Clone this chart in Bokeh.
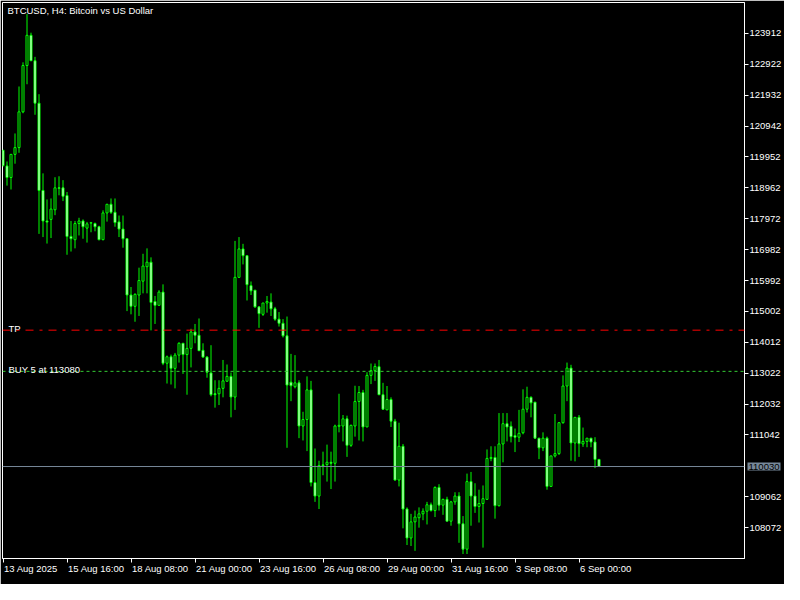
from bokeh.plotting import figure
from bokeh.models import Span, Label, FixedTicker, Range1d, BasicTickFormatter, ColumnDataSource
from bokeh.embed import file_html
from bokeh.resources import INLINE

# ---- data (BTCUSD H4) ----
opens = [120168, 119664, 119293, 120035, 120252, 121397, 122882, 123850, 123036, 121675,
         118878, 117900, 117950, 118259, 118962, 118962, 118714, 117405, 117300, 117817,
         117900, 117671, 117830, 117817, 117715, 117300, 118157, 118436, 118179, 117870,
         117641, 117331, 115527, 115165, 115527, 115970, 116434, 116579, 115320, 115196,
         115620, 113340, 113547, 113176, 113600, 113980, 113618, 113816, 114342, 114237,
         113754, 113538, 113030, 112362, 112362, 112535, 112764, 112919, 112257, 116093,
         117003, 116787, 115827, 115682, 115147, 114908, 115271, 115301, 115085, 114754,
         114621, 114219, 112733, 112588, 112712, 111329, 111536, 112486, 109516, 109083,
         110082, 110091, 110166, 110134, 111319, 111329, 111558, 110710, 111329, 112115,
         112402, 111298, 112950, 113105, 113229, 112331, 111845, 112177, 111483, 109596,
         110679, 108668, 107740, 108256, 108389, 108513, 108597, 108804, 108618, 109361,
         108792, 108977, 108278, 108897, 109083, 108195, 107381, 109547, 109083, 108751,
         108844, 108977, 110289, 110320, 108773, 110753, 111403, 111319, 111019, 110970,
         111112, 111867, 112248, 112093, 110939, 110630, 110939, 109392, 110370, 110444,
         111434, 112610, 113185, 110784, 111607, 110753, 110834, 110939, 110815, 110258]
highs = [120168, 119806, 120035, 120704, 122210, 122984, 124531, 123934, 123160, 121963,
         119426, 118590, 118621, 119302, 119333, 119209, 118829, 117900, 117900, 118002,
         117950, 117870, 117870, 117848, 117746, 118241, 118436, 118621, 118621, 118074,
         118074, 117331, 115784, 115580, 116403, 116848, 117022, 116734, 115496, 115682,
         115868, 113587, 113618, 113671, 114011, 113980, 114290, 114444, 114599, 114775,
         113980, 113569, 113918, 112795, 112795, 113445, 113300, 113043, 117260, 117384,
         117167, 116796, 115960, 115682, 115147, 115271, 115496, 115580, 115147, 114980,
         114754, 114837, 113640, 113600, 112795, 111784, 112919, 112774, 110608, 110215,
         110506, 110732, 110506, 111372, 112362, 111681, 111660, 111372, 112619, 112610,
         112486, 113052, 113331, 113331, 113445, 112712, 112610, 112248, 111558, 111434,
         110753, 108720, 108513, 108618, 108720, 108690, 108897, 108875, 109392, 109463,
         108999, 109061, 108928, 109206, 109206, 108442, 109803, 109856, 109494, 109287,
         109423, 110577, 110679, 110679, 111743, 111743, 111743, 111474, 111248, 111845,
         112505, 112588, 112279, 112093, 110939, 111125, 110988, 110370, 111712, 111453,
         112950, 113361, 113290, 111607, 111681, 111279, 110939, 110939, 110970, 110258]
lows = [119642, 119033, 118909, 119735, 120085, 121353, 122282, 123036, 121304, 117486,
        117384, 117176, 117353, 118086, 118723, 118538, 116817, 116920, 117022, 117436,
        117331, 117207, 117538, 117569, 117282, 117282, 117879, 118126, 117715, 117384,
        117043, 115011, 114908, 114670, 114856, 115580, 115580, 114392, 114599, 115196,
        113278, 112690, 112659, 112535, 113361, 112999, 112331, 113207, 113980, 113742,
        113516, 112876, 112279, 111917, 112000, 112248, 112743, 111607, 111845, 116093,
        116508, 115351, 115527, 115116, 114475, 114856, 114961, 114856, 114701, 114516,
        114166, 110630, 112124, 112535, 110939, 110865, 110524, 109392, 108897, 108668,
        109751, 109547, 109308, 109547, 111125, 110834, 110339, 110660, 110988, 110865,
        110834, 111298, 112672, 112774, 112331, 111845, 111845, 111298, 109578, 109392,
        108049, 107514, 107483, 107328, 108071, 108309, 108173, 108587, 108411, 108618,
        108482, 108278, 108133, 108804, 107585, 107226, 107226, 108133, 108544, 108235,
        107431, 108959, 110200, 108359, 108751, 110165, 110834, 110803, 110493, 110815,
        111063, 111762, 111607, 110917, 110267, 110524, 109287, 109392, 110320, 110401,
        111403, 112124, 110215, 110196, 110339, 110660, 110648, 110648, 109980, 110030]
closes = [119673, 119293, 120035, 120252, 121397, 122882, 123850, 123036, 121675, 118878,
          117900, 117863, 118281, 118962, 118946, 118692, 117405, 117331, 117817, 117900,
          117715, 117808, 117845, 117715, 117300, 118157, 118436, 118179, 117848, 117641,
          117331, 115527, 115165, 115549, 115991, 116455, 116579, 115289, 115196, 115620,
          113340, 113547, 113176, 113600, 113980, 113618, 113816, 114342, 114237, 113742,
          113538, 113052, 112331, 112331, 112535, 112774, 112919, 112257, 116093, 117003,
          116787, 115858, 115660, 115147, 114930, 115271, 115320, 115085, 114754, 114621,
          114219, 112641, 112619, 112712, 111329, 111536, 112486, 109516, 109083, 110060,
          110060, 110166, 110134, 111329, 111350, 111558, 110710, 111350, 112115, 112402,
          111298, 112950, 113105, 113238, 112331, 111867, 112177, 111483, 109596, 110679,
          108668, 107740, 108256, 108411, 108513, 108597, 108804, 108618, 109361, 108792,
          108977, 108278, 108897, 109083, 108195, 107381, 109547, 109083, 108751, 108844,
          108999, 110289, 110320, 108773, 110753, 111403, 111298, 110988, 110970, 111094,
          111867, 112248, 112071, 110939, 110630, 110939, 109392, 110370, 110444, 111434,
          112610, 113185, 110784, 111607, 110763, 110834, 110939, 110815, 110258, 110030]

time_ticks = [0, 16, 32, 48, 64, 80, 96, 112, 128, 144]
time_labels = ["13 Aug 2025", "15 Aug 16:00", "18 Aug 08:00", "21 Aug 00:00", "23 Aug 16:00",
               "26 Aug 08:00", "29 Aug 00:00", "31 Aug 16:00", "3 Sep 08:00", "6 Sep 00:00"]
price_ticks = [123912, 122922, 121932, 120942, 119952, 118962, 117972, 116982, 115992,
               115002, 114012, 113022, 112032, 111042, 109062, 108072]
bid_price = 110030
tp_price = 114400
buy_price = 113080
title_text = "BTCUSD, H4:  Bitcoin vs US Dollar"
tp_text = "TP"
buy_text = "BUY 5 at 113080"

FONT = "Liberation Sans"
FS_PX = 9.5
FS = f"{FS_PX}px"
GREEN = "#00ff00"

W, H = 784, 584
BORDER_L, BORDER_T, BORDER_R = 2, 2, 40
PX_PER_BAR = 4.0
X0 = -0.125
X1 = X0 + (W - BORDER_L - BORDER_R) / PX_PER_BAR
Y0, Y1 = 107082, 124902

# approximate text widths (em) to left-align time labels at their ticks
_EM = {" ": 0.278, ":": 0.278, "A": 0.667, "S": 0.667, "u": 0.556, "g": 0.556,
       "e": 0.556, "p": 0.556}
def text_px(s):
    return sum(_EM.get(ch, 0.556) for ch in s) * FS_PX

label_centers = [round(t + (1.0 + text_px(lab) / 2.0) / PX_PER_BAR, 3)
                 for t, lab in zip(time_ticks, time_labels)]

bars = list(range(len(opens)))
body_top = [max(o, c) for o, c in zip(opens, closes)]
body_bot = [min(o, c) for o, c in zip(opens, closes)]
body_fill = ["black" if c > o else "white" for o, c in zip(opens, closes)]
src = ColumnDataSource(dict(x=bars, o=opens, h=highs, l=lows, c=closes,
                            top=body_top, bot=body_bot, fill=body_fill))

p = figure(width=W, height=H, output_backend="svg", toolbar_location=None,
           x_range=Range1d(X0, X1), y_range=Range1d(Y0, Y1),
           y_axis_location="right", min_border_left=BORDER_L, min_border_top=BORDER_T,
           min_border_right=BORDER_R, min_border_bottom=0)
p.background_fill_color = "black"
p.border_fill_color = "black"
p.outline_line_color = "white"
p.outline_line_width = 1
p.grid.visible = False

# right price axis
ya = p.yaxis[0]
ya.ticker = FixedTicker(ticks=price_ticks)
ya.formatter = BasicTickFormatter(use_scientific=False)
ya.major_tick_out = 4
ya.major_tick_in = 0
ya.minor_tick_out = 0
ya.minor_tick_in = 0
ya.axis_line_color = "white"
ya.major_tick_line_color = "white"
ya.major_label_text_color = "white"
ya.major_label_text_font = FONT
ya.major_label_text_font_size = FS
ya.major_label_standoff = 1

# bottom time axis: tick marks as minor ticks, labels centred right of them
xa = p.xaxis[0]
xa.ticker = FixedTicker(ticks=label_centers, minor_ticks=time_ticks)
xa.major_label_overrides = {c: lab for c, lab in zip(label_centers, time_labels)}
xa.major_tick_out = 4
xa.major_tick_in = 0
xa.major_tick_line_color = None
xa.minor_tick_out = 4
xa.minor_tick_in = 0
xa.minor_tick_line_color = "white"
xa.axis_line_color = "white"
xa.major_label_text_color = "white"
xa.major_label_text_font = FONT
xa.major_label_text_font_size = FS
xa.major_label_standoff = 0

# level lines
p.add_layout(Span(location=tp_price, dimension="width", line_color="#ff0000",
                  line_width=1, line_dash="8 6 3 6"))
p.add_layout(Span(location=buy_price, dimension="width", line_color="#33cc33",
                  line_width=1, line_dash="3 3"))
p.add_layout(Span(location=bid_price, dimension="width", line_color="#778899",
                  line_width=1))

# candles
p.segment(x0="x", y0="l", x1="x", y1="h", source=src, line_color=GREEN, line_width=1)
p.vbar(x="x", width=0.5, top="top", bottom="bot", source=src,
       fill_color="fill", line_color=GREEN, line_width=1)

# texts
p.add_layout(Label(x=5, x_units="screen", y=Y1, y_offset=-2, text=title_text,
                   text_align="left", text_baseline="top", text_color="white",
                   text_font=FONT, text_font_size=FS))
p.add_layout(Label(x=6, x_units="screen", y=tp_price, y_offset=2, text=tp_text,
                   text_align="left", text_baseline="alphabetic", text_color="white",
                   text_font=FONT, text_font_size=FS))
p.add_layout(Label(x=6, x_units="screen", y=buy_price, y_offset=2, text=buy_text,
                   text_align="left", text_baseline="alphabetic", text_color="white",
                   text_font=FONT, text_font_size=FS))
# current bid price box on the price scale (side panel so it is not clipped)
p.add_layout(Label(x=X1, y=bid_price, x_offset=3, text=str(bid_price),
                   text_align="left", text_baseline="middle", text_color="black",
                   background_fill_color="#778899", padding=1,
                   text_font=FONT, text_font_size=FS), "below")

open("out.html", "w").write(file_html(p, INLINE))
